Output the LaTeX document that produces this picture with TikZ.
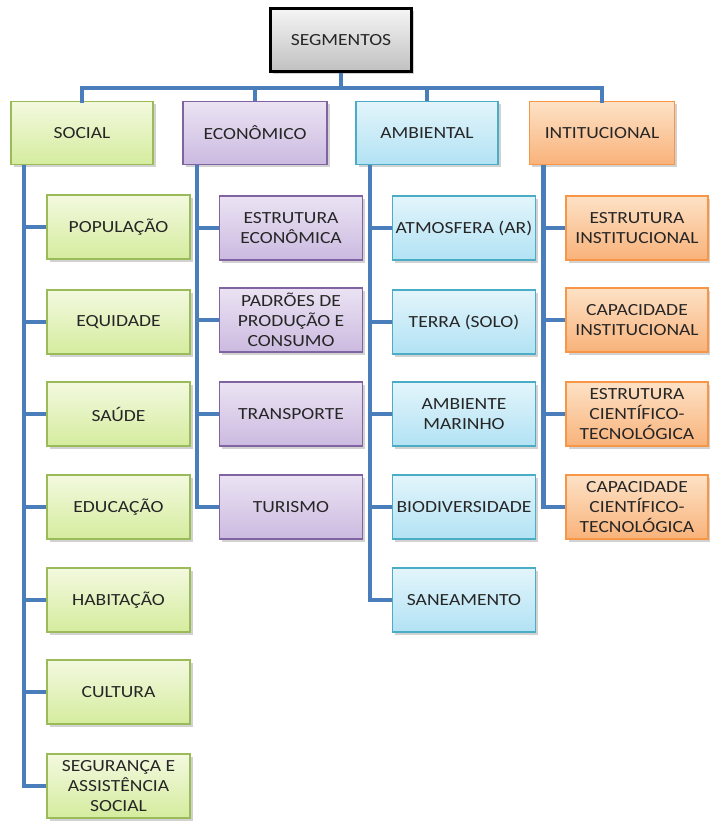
\documentclass[tikz,border=0pt]{standalone}
\usepackage{fontspec}
\setmainfont{Carlito}[FakeStretch=1.15]
\usetikzlibrary{shadows}
\definecolor{conncol}{HTML}{4A7EBB}
\definecolor{txtcol}{HTML}{262626}
\definecolor{gbord}{HTML}{9BBB59}
\definecolor{gtop}{HTML}{F3F9DF}
\definecolor{gbot}{HTML}{D5EC9E}
\definecolor{pbord}{HTML}{8064A2}
\definecolor{ptop}{HTML}{EBE3F3}
\definecolor{pbot}{HTML}{CBBAE0}
\definecolor{bbord}{HTML}{4BACC6}
\definecolor{btop}{HTML}{E3F5FB}
\definecolor{bbot}{HTML}{B2E2F4}
\definecolor{obord}{HTML}{F79646}
\definecolor{otop}{HTML}{FDE2C6}
\definecolor{obot}{HTML}{F9B27A}
\definecolor{stop}{HTML}{F5F5F5}
\definecolor{sbot}{HTML}{C0C0C0}
\tikzset{
  box/.style={draw, line width=1.6pt, minimum width=142pt, minimum height=64pt,
    inner sep=1pt, align=center, text=txtcol,
    font=\fontsize{17}{20}\selectfont,
    drop shadow={opacity=0.35, shadow xshift=2.5pt, shadow yshift=-2.5pt}},
  greenbox/.style={box, draw=gbord, top color=gtop, bottom color=gbot},
  purplebox/.style={box, draw=pbord, top color=ptop, bottom color=pbot},
  bluebox/.style={box, draw=bbord, top color=btop, bottom color=bbot},
  orangebox/.style={box, draw=obord, top color=otop, bottom color=obot},
  graybox/.style={box, draw=black, line width=2.4pt, top color=stop, bottom color=sbot},
  conn/.style={draw=conncol, line width=4.5pt}
}
\begin{document}
\begin{tikzpicture}[x=1pt,y=-1pt]
\fill[white] (0,0) rectangle (709,821);
\useasboundingbox (0,0) rectangle (709,821);
% top
\node[graybox, minimum width=141pt, minimum height=63pt] (seg) at (341,40) {SEGMENTOS};
\coordinate (bar) at (0,88);
% level 1
\node[greenbox, minimum height=63pt] (soc) at (82,133) {SOCIAL};
\node[purplebox, minimum height=63pt, minimum width=144pt] (eco) at (255,133) {ECONÔMICO};
\node[bluebox, minimum height=63pt] (amb) at (427,133) {AMBIENTAL};
\node[orangebox, minimum height=63pt, minimum width=145pt] (ins) at (602,133) {INTITUCIONAL};
% social children
\node[greenbox, minimum width=143pt] (s1) at (118.5,227) {POPULAÇÃO};
\node[greenbox, minimum width=143pt] (s2) at (118.5,322) {EQUIDADE};
\node[greenbox, minimum width=143pt] (s3) at (118.5,414) {SAÚDE};
\node[greenbox, minimum width=143pt] (s4) at (118.5,507) {EDUCAÇÃO};
\node[greenbox, minimum width=143pt] (s5) at (118.5,600) {HABITAÇÃO};
\node[greenbox, minimum width=143pt] (s6) at (118.5,692) {CULTURA};
\node[greenbox, minimum width=143pt] (s7) at (118.5,786) {SEGURANÇA E\\ASSISTÊNCIA\\SOCIAL};
% economic children
\node[purplebox, minimum width=143pt] (e1) at (291,228) {ESTRUTURA\\ECONÔMICA};
\node[purplebox, minimum width=143pt] (e2) at (291,320) {PADRÕES DE\\PRODUÇÃO E\\CONSUMO};
\node[purplebox, minimum width=143pt] (e3) at (291,414) {TRANSPORTE};
\node[purplebox, minimum width=143pt] (e4) at (291,507) {TURISMO};
% ambiental children
\node[bluebox, minimum width=143pt] (a1) at (464,228) {ATMOSFERA (AR)};
\node[bluebox, minimum width=143pt] (a2) at (464,322) {TERRA (SOLO)};
\node[bluebox, minimum width=143pt] (a3) at (464,414) {AMBIENTE\\MARINHO};
\node[bluebox, minimum width=143pt] (a4) at (464,507) {BIODIVERSIDADE};
\node[bluebox, minimum width=143pt] (a5) at (464,600) {SANEAMENTO};
% institutional children
\node[orangebox, minimum width=142pt] (i1) at (637,228) {ESTRUTURA\\INSTITUCIONAL};
\node[orangebox, minimum width=142pt] (i2) at (637,320) {CAPACIDADE\\INSTITUCIONAL};
\node[orangebox, minimum width=142pt] (i3) at (637,414) {ESTRUTURA\\CIENTÍFICO-\\TECNOLÓGICA};
\node[orangebox, minimum width=142pt] (i4) at (637,507) {CAPACIDADE\\CIENTÍFICO-\\TECNOLÓGICA};
% connectors
\draw[conn] (seg.south) -- (seg.south |- bar);
\draw[conn, line cap=rect] (soc.north) -- (soc.north |- bar) -- (ins.north |- bar) -- (ins.north);
\draw[conn] (eco.north) -- (eco.north |- bar);
\draw[conn] (amb.north) -- (amb.north |- bar);
\coordinate (sx) at ([xshift=14pt]soc.south west);
\coordinate (ex) at ([xshift=15pt]eco.south west);
\coordinate (ax) at ([xshift=15pt]amb.south west);
\coordinate (ix) at ([xshift=15pt]ins.south west);
\foreach \c in {s1,s2,s3,s4,s5,s6,s7} \draw[conn] (sx) |- (\c.west);
\foreach \c in {e1,e2,e3,e4} \draw[conn] (ex) |- (\c.west);
\foreach \c in {a1,a2,a3,a4,a5} \draw[conn] (ax) |- (\c.west);
\foreach \c in {i1,i2,i3,i4} \draw[conn] (ix) |- (\c.west);
\end{tikzpicture}
\end{document}
